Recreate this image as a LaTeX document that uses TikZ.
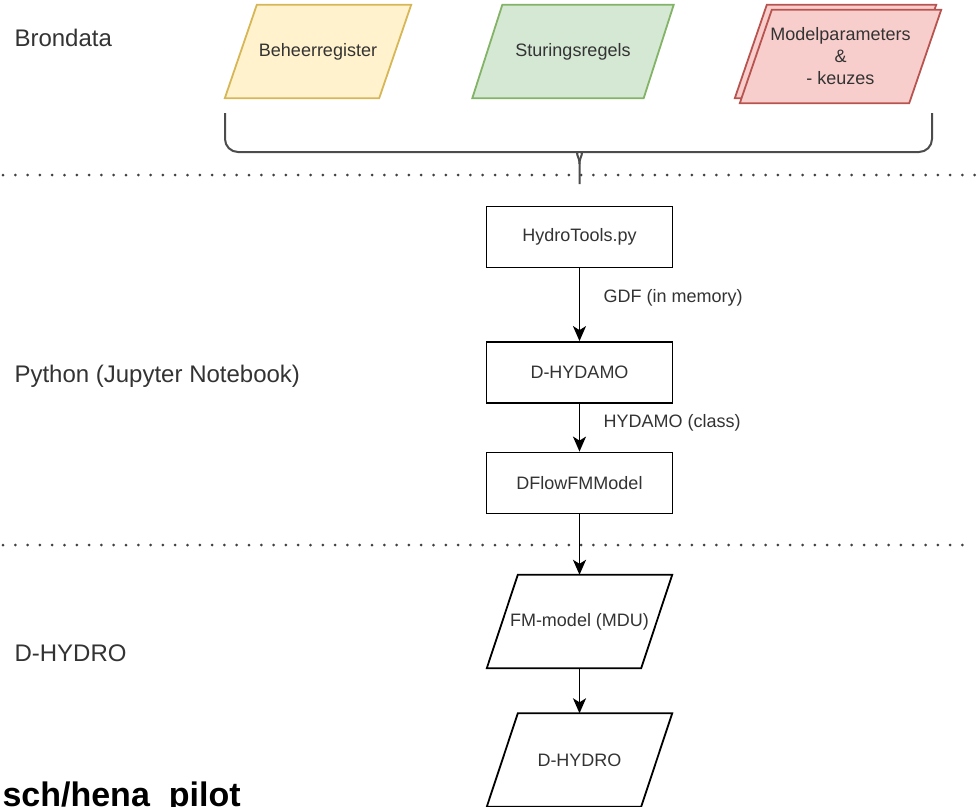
\documentclass[tikz,border=0pt]{standalone}
\usepackage{fontspec}
\setmainfont{Liberation Sans}
\usepackage{tikz}
\usetikzlibrary{arrows.meta,positioning,backgrounds}
\usepackage{xcolor}
\definecolor{yelfill}{HTML}{FFF2CC}
\definecolor{yeldraw}{HTML}{D6B656}
\definecolor{grnfill}{HTML}{D5E8D4}
\definecolor{grndraw}{HTML}{82B366}
\definecolor{redfill}{HTML}{F8CECC}
\definecolor{reddraw}{HTML}{B85450}
\definecolor{txtgray}{HTML}{333333}
\tikzset{
  proc/.style={draw, line width=1.8pt, minimum width=186pt, minimum height=61pt, inner sep=0pt, font=\fontsize{18}{22}\selectfont, text=txtgray},
  datanode/.style={minimum height=93pt, inner sep=0pt, align=center, font=\fontsize{18}{22}\selectfont, text=txtgray},
  slant/.style={line width=1.8pt, draw=black, fill=white},
  yel/.style={slant, draw=yeldraw, fill=yelfill},
  grn/.style={slant, draw=grndraw, fill=grnfill},
  red/.style={slant, draw=reddraw, fill=redfill},
  lane/.style={anchor=base west, font=\fontsize{24}{28}\selectfont, text=txtgray},
  edgelab/.style={right=20pt, font=\fontsize{18}{22}\selectfont, text=txtgray},
  flow/.style={-{Stealth[length=15pt,width=13pt,inset=4pt]}, line width=1.8pt},
  sepline/.style={line width=3pt, line cap=round, dash pattern=on 0pt off 12.3pt, draw=black!75},
  bracket/.style={line width=2pt, draw=black!70}
}
% slanted data shape round a node: node, half skew, style
\newcommand{\slantbg}[3]{%
  \draw[#3] ([xshift=-#2]#1.south west) -- ([xshift=-#2]#1.south east)
    -- ([xshift=#2]#1.north east) -- ([xshift=#2]#1.north west) -- cycle;}

\begin{document}
\begin{tikzpicture}[x=1pt,y=-1pt]
\useasboundingbox (0,0) rectangle (980,806);

% Lanes
\node[lane] (brondata) at (11,46) {Brondata};
\node[lane] (python) at (11,382) {Python (Jupyter Notebook)};
\node[lane] (dhydrolane) at (11,661) {D-HYDRO};
\draw[sepline] (3,175) -- (980,175);
\draw[sepline] (3,545) -- (965,545);

% Source data
\node[datanode, minimum width=154pt] (beheer) at (318,51.5) {Beheerregister};
\node[datanode, minimum width=171pt] (sturing) at (573,51.5) {Sturingsregels};
\node[datanode, minimum width=169pt] (modelback) at (835.5,51.5) {};
\node[datanode, minimum width=169pt] (modelpar) at (840.5,56.5) {Modelparameters\\\&\\- keuzes};
\begin{scope}[on background layer]
\slantbg{beheer}{16pt}{yel}
\slantbg{sturing}{15pt}{grn}
\slantbg{modelback}{16pt}{red}
\slantbg{modelpar}{16pt}{red}
\end{scope}

% Bracket
\draw[bracket] (225,113) [rounded corners=13pt] |- (566,152) [sharp corners] .. controls (574,152) and (579.5,156) .. (579.5,164) -- (579.5,184);
\draw[bracket] (932,113) [rounded corners=13pt] |- (593,152) [sharp corners] .. controls (585,152) and (579.5,156) .. (579.5,164);

% Python steps
\node[proc] (tools) at (579.5,237) {HydroTools.py};
\node[proc] (hydamo) at (579.5,372.5) {D-HYDAMO};
\node[proc] (dflow) at (579.5,483) {DFlowFMModel};
\draw[flow] (tools) -- node[edgelab, pos=0.4] {GDF (in memory)} (hydamo);
\draw[flow] (hydamo) -- node[edgelab, pos=0.4] {HYDAMO (class)} (dflow);

% D-HYDRO
\node[datanode, minimum width=154pt] (fmmodel) at (579.5,621.5) {FM-model (MDU)};
\node[datanode, minimum width=154pt] (dhydro) at (579.5,760) {D-HYDRO};
\begin{scope}[on background layer]
\slantbg{fmmodel}{15.5pt}{slant}
\slantbg{dhydro}{15.5pt}{slant}
\end{scope}
\draw[flow] (dflow) -- (fmmodel);
\draw[flow] (fmmodel) -- (dhydro);

% Path caption
\node[anchor=base west, font=\bfseries\fontsize{34}{40}\selectfont] (caption) at (-1,806) {sch/hena\_pilot};
\end{tikzpicture}
\end{document}
